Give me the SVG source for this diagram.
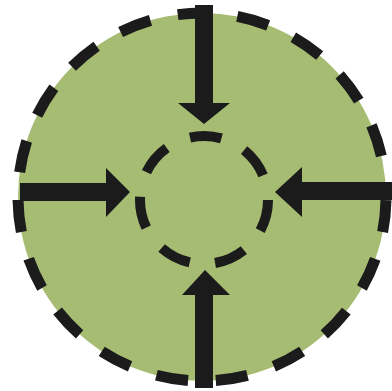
<svg xmlns="http://www.w3.org/2000/svg" width="392" height="391" viewBox="0 0 392 391">
<style>
.dash{fill:none;stroke:#1b1b1b;stroke-linecap:butt}
.shaft{fill:#1b1b1b}
.head{fill:#1b1b1b}
</style>
<rect width="392" height="391" fill="#ffffff"/>
<g id="outer">
<circle cx="202" cy="197" r="184" fill="#a6bc73"/>
<circle class="dash" cx="202" cy="197" r="184" stroke-width="11" stroke-dasharray="32.1 27.84" stroke-dashoffset="-3.2"/>
</g>
<g id="inner">
<circle class="dash" cx="204" cy="200" r="64" stroke-width="10" stroke-dasharray="31.8 25.6" stroke-dashoffset="0"/>
</g>
<g id="connectors">
<g id="arrow-top">
<rect class="shaft" x="195" y="5" width="18" height="100"/>
<polygon class="head" points="178,103 230,103 204,124"/>
</g>
<g id="arrow-left">
<rect class="shaft" x="20" y="183" width="88" height="18"/>
<polygon class="head" points="106,168 106,217 130,192"/>
</g>
<g id="arrow-right">
<rect class="shaft" x="300" y="182" width="92" height="18"/>
<polygon class="head" points="302,167 302,217 275,192"/>
</g>
<g id="arrow-bottom">
<rect class="shaft" x="195" y="293" width="18" height="95"/>
<polygon class="head" points="182,295 230,295 205,270"/>
</g>
</g>
</svg>
